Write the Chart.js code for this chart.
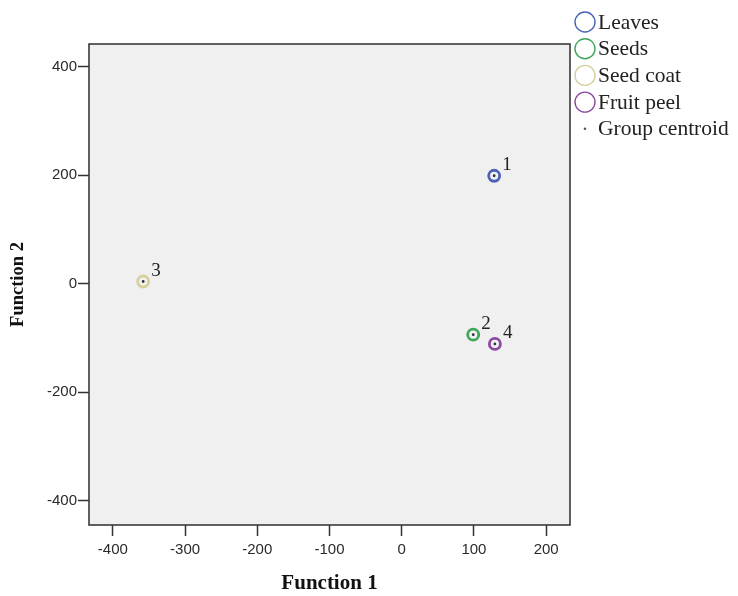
<!DOCTYPE html>
<html>
<head>
<meta charset="utf-8">
<script src="https://cdn.jsdelivr.net/npm/chart.js@4.4.1/dist/chart.umd.min.js"></script>
<style>
  html, body { margin: 0; padding: 0; background: #fff; }
  #wrap { width: 738px; height: 596px; }
</style>
</head>
<body>
<div id="wrap"><canvas id="chart" width="738" height="596"></canvas></div>
<script>
// groups and their centroids (Function 1, Function 2)
const groups = ["Leaves", "Seeds", "Seed coat", "Fruit peel"];
const groupNumbers = ["1", "2", "3", "4"];
const groupColors = ["#4a63b8", "#3fa65a", "#d8cf9c", "#8b4a9e"];
const function1 = [128, 99, -358, 129];
const function2 = [199, -94, 4, -111];
const xTicks = [-400, -300, -200, -100, 0, 100, 200];
const yTicks = [-400, -200, 0, 200, 400];

const datasets = groups.map((g, i) => ({
  label: g,
  data: [{ x: function1[i], y: function2[i] }],
  borderColor: groupColors[i],
  backgroundColor: "#f2f2f2",
  pointRadius: 5.5,
  pointBorderWidth: 2.8,
  order: 1,
}));
// centroids drawn on top of the case markers
datasets.push({
  label: "Group centroid",
  data: function1.map((v, i) => ({ x: v, y: function2[i] })),
  borderColor: "#333",
  backgroundColor: "#333",
  pointRadius: 1.4,
  pointBorderWidth: 0,
  order: 0,
});

// grey plot box with frame
const frame = {
  id: "frame",
  beforeDatasetsDraw(chart) {
    const { ctx, chartArea: a } = chart;
    ctx.save();
    ctx.fillStyle = "#f0f0f0";
    ctx.fillRect(a.left, a.top, a.right - a.left, a.bottom - a.top);
    ctx.strokeStyle = "#3a3a3a";
    ctx.lineWidth = 1.6;
    ctx.strokeRect(a.left, a.top, a.right - a.left, a.bottom - a.top);
    ctx.restore();
  },
};

// group numbers next to centroids + legend at top right
const extras = {
  id: "extras",
  afterDatasetsDraw(chart) {
    const { ctx } = chart;
    const meta = chart.getDatasetMeta(groups.length);
    ctx.save();
    ctx.font = "19px 'Liberation Serif'";
    ctx.fillStyle = "#222";
    ctx.textBaseline = "middle";
    ctx.textAlign = "left";
    meta.data.forEach((pt, i) => {
      ctx.fillText(groupNumbers[i], pt.x + 8, pt.y - 11);
    });

    // legend
    ctx.font = "21.5px 'Liberation Serif'";
    chart.data.datasets.forEach((ds, i) => {
      const y = 22 + i * 26.7;
      if (i < groups.length) {
        ctx.beginPath();
        ctx.arc(585, y, 10, 0, Math.PI * 2);
        ctx.strokeStyle = ds.borderColor;
        ctx.lineWidth = 1.4;
        ctx.stroke();
      } else {
        ctx.beginPath();
        ctx.arc(585, y, 1.3, 0, Math.PI * 2);
        ctx.fillStyle = "#555";
        ctx.fill();
      }
      ctx.fillStyle = "#222";
      ctx.fillText(ds.label, 598, y + 1);
    });
    ctx.restore();
  },
};

const tickGrid = {
  drawOnChartArea: false,
  drawTicks: true,
  tickLength: 11,
  tickColor: "#333",
  tickWidth: 1.5,
};

new Chart(document.getElementById("chart"), {
  type: "scatter",
  data: { datasets },
  options: {
    responsive: false,
    animation: false,
    layout: { padding: { left: 0, top: 44, right: 168, bottom: 0 } },
    plugins: { legend: { display: false }, tooltip: { enabled: false } },
    scales: {
      x: {
        min: -433,
        max: 233,
        afterFit: (s) => { s.height = 71; },
        afterBuildTicks: (s) => { s.ticks = xTicks.map((v) => ({ value: v })); },
        ticks: {
          font: { family: "Liberation Sans", size: 15 },
          color: "#2a2a2a",
          padding: 5,
        },
        grid: tickGrid,
        border: { display: false },
        title: {
          display: true,
          text: "Function 1",
          font: { family: "Liberation Serif", size: 21, weight: "bold" },
          color: "#111",
          padding: { top: 0, bottom: 0 },
        },
      },
      y: {
        min: -445,
        max: 442,
        afterFit: (s) => { s.width = 89; },
        afterBuildTicks: (s) => { s.ticks = yTicks.map((v) => ({ value: v })); },
        ticks: {
          font: { family: "Liberation Sans", size: 15 },
          color: "#2a2a2a",
          padding: 1,
        },
        grid: tickGrid,
        border: { display: false },
        title: {
          display: true,
          text: "Function 2",
          font: { family: "Liberation Serif", size: 18.5, weight: "bold" },
          color: "#111",
          padding: { top: 7, bottom: 0 },
        },
      },
    },
  },
  plugins: [frame, extras],
});
</script>
</body>
</html>
